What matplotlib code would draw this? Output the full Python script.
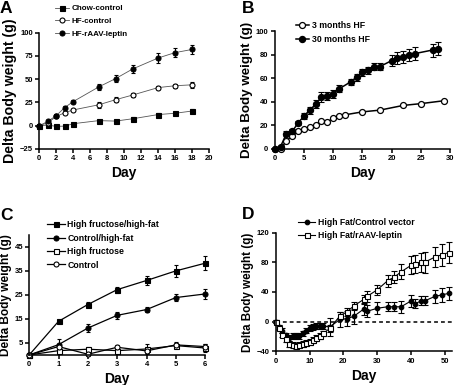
import numpy as np
import matplotlib
matplotlib.use("Agg")
import matplotlib.pyplot as plt
from matplotlib.lines import Line2D

plt.rcParams['font.family'] = ['Liberation Sans', 'DejaVu Sans']
plt.rcParams['font.weight'] = 'bold'

# ---- Panel A ----
a_days = [0, 1, 2, 3, 4, 7, 9, 11, 14, 16, 18]
a_chow = [0, 0.7, -0.7, -0.4, 2.2, 5.5, 5, 7.5, 12, 13.4, 15.8]
a_chow_err = [0.5, 0.8, 0.8, 0.8, 1, 1.2, 1.2, 1.5, 1.8, 1.8, 2]
a_hf = [0, 3.3, 10, 14, 17, 22.5, 28, 33, 41, 43, 44]
a_hf_err = [0.5, 1, 1.5, 1.5, 1.5, 3, 2.5, 2, 2, 2, 3]
a_lep = [0, 4.7, 10.9, 19.6, 26, 41.7, 50.7, 61, 72.8, 78.6, 82]
a_lep_err = [0.5, 1.5, 2, 2, 2, 3, 4, 4.5, 5, 5, 5]

# ---- Panel B ----
b3_days = [0, 1, 2, 3, 4, 5, 6, 7, 8, 9, 10, 11, 12, 15, 18, 22, 25, 29]
b3_vals = [0, 0, 7, 11, 15, 17, 19, 20, 24, 23, 26, 28, 29, 31.5, 33, 37, 38.5, 41]
b30_days = [0, 1, 2, 3, 4, 5, 6, 7, 8, 9, 10, 11, 13, 14, 15, 16, 17, 18,
            20, 21, 22, 23, 24, 27, 28]
b30_vals = [0, 2, 13, 15, 22, 28, 33, 38, 44, 45, 47, 51, 57, 61, 65, 67, 70, 70,
            75, 77, 78, 80, 81, 84, 85]
b30_err = [1, 1.5, 2, 2, 2, 2.5, 3, 3.5, 4, 3.5, 3.5, 3, 2.5, 3, 3, 3, 3, 3,
           4.5, 5, 5, 5, 5.5, 5.5, 5.5]

# ---- Panel C ----
c_days = [0, 1, 2, 3, 4, 5, 6]
c_hfhf = [0, 14, 21, 27.2, 31, 35, 38.2]
c_hfhf_err = [0.3, 0.6, 1.2, 1.3, 1.8, 2.5, 3]
c_ctlhf = [0, 4.3, 11.2, 16.5, 18.9, 23.9, 25.4]
c_ctlhf_err = [0.3, 2.5, 1.8, 1.5, 1, 1.5, 2]
c_fru = [0, 1.8, 2.4, 1.8, 2.5, 3.9, 2.9]
c_fru_err = [0.3, 1, 1, 1, 2, 1, 1.5]
c_ctl = [0, 3.5, 0.3, 3.2, 1.7, 4.2, 3.5]
c_ctl_err = [0.3, 1, 0.8, 0.8, 1, 1, 1]

# ---- Panel D ----
d_days = [0, 1, 2, 3, 4, 5, 6, 7, 8, 9, 10, 11, 12, 13, 14, 16, 19, 21, 23,
          26, 27, 30, 33, 35, 37, 40, 41, 43, 44, 47, 49, 51]
d_ctl = [0, -7, -12, -18, -22, -20, -19, -19, -16, -12, -9, -7, -6, -6, -6, -7,
         3, 4, 7, 17, 14, 18, 20, 20, 20, 28, 24, 28, 28, 34, 36, 38]
d_ctl_err = [2, 3, 3, 3, 4, 4, 4, 4, 4, 4, 4, 4, 4, 4, 4, 12,
             10, 10, 10, 8, 8, 8, 6, 6, 8, 8, 6, 6, 6, 9, 9, 9]
d_lep = [0, -8, -18, -24, -30, -32, -33, -31, -30, -29, -27, -25, -22, -19, -16, -9,
         8, 13, 21, 30, 34, 43, 55, 60, 67, 76, 78, 80, 80, 87, 90, 93]
d_lep_err = [2, 3, 3, 4, 4, 4, 4, 4, 4, 4, 4, 4, 4, 4, 4, 5,
             5, 6, 6, 6, 7, 7, 8, 8, 10, 12, 12, 13, 14, 14, 15, 14]

fig = plt.figure(figsize=(4.56, 3.85), dpi=100)


def style(ax, ysize):
    for s in ['top', 'right']:
        ax.spines[s].set_visible(False)
    for s in ['left', 'bottom']:
        ax.spines[s].set_linewidth(1.1)
    ax.tick_params(direction='out', length=3, width=1.1, labelsize=5.5, pad=1.5)
    for t in ax.get_xticklabels() + ax.get_yticklabels():
        t.set_fontweight('bold')
    ax.set_xlabel('Day', fontsize=10, fontweight='bold', labelpad=3)
    ax.set_ylabel('Delta Body weight (g)', fontsize=ysize, fontweight='bold', labelpad=2)


def series(ax, x, y, err, marker, mfc, lw, ms, color='black', label=None, cap=1.5):
    ax.errorbar(x, y, yerr=err, fmt='-', marker=marker, color=color, mfc=mfc,
                mec='black', ecolor='black', elinewidth=0.8, capsize=cap, capthick=0.8,
                lw=lw, ms=ms, mew=0.8, clip_on=False)
    return Line2D([], [], color=color, lw=lw, marker=marker, mfc=mfc, mec='black',
                  ms=ms, mew=0.8, label=label)


def legend(ax, handles, x, y, fs, hl, ls):
    ax.legend(handles=handles, loc='upper left', bbox_to_anchor=(x, y),
              bbox_transform=fig.transFigure, frameon=False, fontsize=fs,
              handlelength=hl, handletextpad=0.3, labelspacing=ls, borderpad=0.2,
              borderaxespad=0)


# A
axA = fig.add_axes([0.0862, 0.613, 0.372, 0.302])
hA = [series(axA, a_days, a_chow, a_chow_err, 's', 'black', 0.6, 3.6, color='#555555', label='Chow-control'),
      series(axA, a_days, a_hf, a_hf_err, 'o', 'white', 0.6, 3.6, color='#555555', label='HF-control'),
      series(axA, a_days, a_lep, a_lep_err, 'o', 'black', 0.6, 3.6, color='#555555', label='HF-rAAV-leptin')]
axA.set_xlim(0, 20)
axA.set_ylim(-25, 100)
axA.set_xticks(range(0, 21, 2))
axA.set_yticks([-25, 0, 25, 50, 75, 100])
style(axA, 10.2)
legend(axA, hA, 0.117, 0.992, 5.8, 1.8, 0.65)

# B
axB = fig.add_axes([0.6024, 0.613, 0.3846, 0.306])
axB.plot(b3_days, b3_vals, '-o', color='black', mfc='white', mec='black', lw=1.1,
         ms=4.3, mew=0.9, clip_on=False)
axB.errorbar(b30_days, b30_vals, yerr=b30_err, fmt='-o', color='black', mfc='black',
             ecolor='black', elinewidth=0.8, capsize=2, capthick=0.8, lw=1.1, ms=4.3,
             clip_on=False)
hB = [Line2D([], [], color='black', lw=1.1, marker='o', mfc='white', mec='black', ms=4.3,
             mew=0.9, label='3 months HF'),
      Line2D([], [], color='black', lw=1.1, marker='o', mfc='black', ms=4.3,
             label='30 months HF')]
axB.set_xlim(0, 30)
axB.set_ylim(0, 100)
axB.set_xticks(range(0, 31, 5))
axB.set_yticks(range(0, 101, 20))
style(axB, 9.6)
legend(axB, hB, 0.645, 0.95, 6.3, 1.5, 0.6)

# C
axC = fig.add_axes([0.064, 0.078, 0.386, 0.312])
hC = [series(axC, c_days, c_hfhf, c_hfhf_err, 's', 'black', 0.9, 3.6, label='High fructose/high-fat'),
      series(axC, c_days, c_ctlhf, c_ctlhf_err, 'o', 'black', 0.9, 3.6, label='Control/high-fat'),
      series(axC, c_days, c_fru, c_fru_err, 's', 'white', 0.9, 3.6, label='High fructose'),
      series(axC, c_days, c_ctl, c_ctl_err, 'o', 'white', 0.9, 3.6, label='Control')]
axC.set_xlim(0, 6)
axC.set_ylim(0, 50)
axC.set_xticks(range(0, 7))
axC.set_yticks([5, 15, 25, 35, 45])
style(axC, 8.6)
legend(axC, hC, 0.1, 0.432, 6.3, 2.0, 0.5)

# D
axD = fig.add_axes([0.6046, 0.0875, 0.3864, 0.3085])
hD = [series(axD, d_days, d_ctl, d_ctl_err, 'o', 'black', 0.8, 3.3, label='High Fat/Control vector', cap=2),
      series(axD, d_days, d_lep, d_lep_err, 's', 'white', 0.8, 3.6, label='High Fat/rAAV-leptin', cap=2)]
axD.axhline(0, color='black', lw=1.1, ls=(0, (2.5, 2)), zorder=0)
axD.set_xlim(0, 52)
axD.set_ylim(-40, 120)
axD.set_xticks(range(0, 51, 10))
axD.set_yticks([-40, 0, 40, 80, 120])
style(axD, 8.4)
legend(axD, hD, 0.65, 0.438, 6.2, 2.0, 0.5)

for letter, x, y in [('A', 0.0, 0.998), ('B', 0.53, 0.998), ('C', 0.0, 0.46), ('D', 0.53, 0.463)]:
    fig.text(x, y, letter, fontsize=12.5, fontweight='bold', va='top', ha='left')

fig.savefig('out.png', dpi=100)
